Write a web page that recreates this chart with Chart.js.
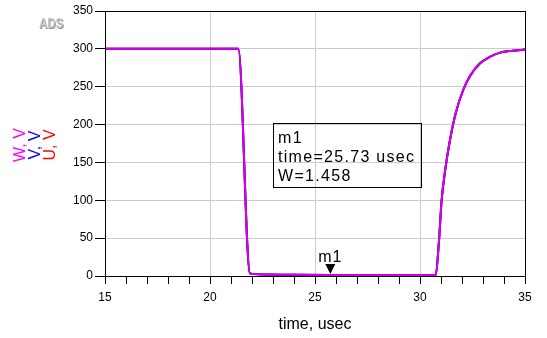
<!DOCTYPE html>
<html>
<head>
<meta charset="utf-8">
<script src="https://cdn.jsdelivr.net/npm/chart.js"></script>
<style>
  html, body { margin: 0; padding: 0; background: #fff; }
  #wrap { width: 547px; height: 338px; }
</style>
</head>
<body>
<div id="wrap"><canvas id="myChart" width="547" height="338"></canvas></div>
<script>
// time in usec
const timeUs = [15, 21.35, 21.9, 22.5, 24, 25.73, 28, 30.75, 30.9, 31.03, 31.2, 31.43, 31.7, 32.06, 32.4, 32.86, 33.3, 33.81, 34.4, 35];
// the three node voltages sit on top of each other
const wVolts = [300, 300, 3.5, 2, 1.6, 1.458, 1.4, 1.4, 45, 100, 140, 180, 215, 246, 265, 281, 289, 295, 297.5, 299];
const vVolts = wVolts.slice();
const uVolts = wVolts.slice();

const markerName = 'm1';
const markerTime = 25.73;
const markerValue = 1.458;

const yTitles = [
    { text: 'W, V', color: '#ff00ff' },
    { text: 'V, V', color: '#0000ff' },
    { text: 'U, V', color: '#ff0000' }
];

const FONT = 'Arial, "Liberation Sans", sans-serif';
Chart.defaults.font.family = FONT;

function toPoints(ys) {
    return timeUs.map((t, i) => ({ x: t, y: ys[i] }));
}

const adsDecor = {
    id: 'adsDecor',
    afterDatasetsDraw(chart) {
        const ctx = chart.ctx;
        const a = chart.chartArea;
        const xs = chart.scales.x;
        const ys = chart.scales.y;

        // plot frame
        ctx.save();
        ctx.strokeStyle = '#000';
        ctx.lineWidth = 1;
        ctx.strokeRect(a.left + 0.5, a.top + 0.5, a.right - a.left, a.bottom - a.top);

        // marker triangle + name
        const mx = xs.getPixelForValue(markerTime);
        const my = ys.getPixelForValue(markerValue);
        ctx.fillStyle = '#000';
        ctx.beginPath();
        ctx.moveTo(mx, my - 1);
        ctx.lineTo(mx - 5, my - 11);
        ctx.lineTo(mx + 5, my - 11);
        ctx.closePath();
        ctx.fill();
        ctx.font = '16px ' + FONT;
        ctx.letterSpacing = '1px';
        ctx.textAlign = 'center';
        ctx.textBaseline = 'alphabetic';
        ctx.fillText(markerName, mx, my - 13);

        // readout box
        const bx = 273, by = 123, bw = 148, bh = 64;
        ctx.strokeRect(bx + 0.5, by + 0.5, bw, bh);
        ctx.textAlign = 'left';
        ctx.letterSpacing = '1.3px';
        ctx.fillText(markerName, 278, 143);
        ctx.fillText('time=' + markerTime.toFixed(2) + ' usec', 278, 162);
        ctx.fillText('W=' + markerValue.toFixed(3), 278, 181);
        ctx.letterSpacing = '0px';
        ctx.restore();
    },
    afterDraw(chart) {
        const ctx = chart.ctx;
        const a = chart.chartArea;
        ctx.save();

        // ADS logo
        ctx.font = 'bold 14px ' + FONT;
        ctx.textAlign = 'left';
        ctx.textBaseline = 'alphabetic';
        ctx.save();
        ctx.translate(39, 28);
        ctx.scale(0.82, 1);
        ctx.fillStyle = '#8a8a8a';
        ctx.fillText('ADS', 1, 1);
        ctx.fillStyle = '#c8c8c8';
        ctx.fillText('ADS', 0, 0);
        ctx.restore();

        // stacked y-axis titles
        ctx.font = '16px ' + FONT;
        ctx.textAlign = 'center';
        const baseX = [25, 40, 55];
        yTitles.forEach((t, i) => {
            ctx.save();
            ctx.translate(baseX[i], 145);
            ctx.rotate(-Math.PI / 2);
            ctx.fillStyle = t.color;
            ctx.fillText(t.text, 0, 0);
            ctx.restore();
        });

        // x-axis title
        ctx.fillStyle = '#000';
        ctx.fillText('time, usec', (a.left + a.right) / 2, 329);
        ctx.restore();
    }
};

const ctx = document.getElementById('myChart').getContext('2d');
const chart = new Chart(ctx, {
    type: 'line',
    data: {
        // first dataset is painted last, so W ends up on top
        datasets: [
            {
                label: 'W',
                data: toPoints(wVolts),
                borderColor: '#d400e8',
                borderWidth: 2,
                pointRadius: 0,
                cubicInterpolationMode: 'monotone'
            },
            {
                label: 'V',
                data: toPoints(vVolts),
                borderColor: '#0000ff',
                borderWidth: 2,
                pointRadius: 0,
                cubicInterpolationMode: 'monotone'
            },
            {
                label: 'U',
                data: toPoints(uVolts),
                borderColor: '#ff0000',
                borderWidth: 2,
                pointRadius: 0,
                cubicInterpolationMode: 'monotone'
            }
        ]
    },
    options: {
        responsive: false,
        animation: false,
        layout: {
            padding: { left: 0, top: 11, right: 22, bottom: 0 }
        },
        plugins: {
            legend: { display: false },
            tooltip: { enabled: false }
        },
        scales: {
            x: {
                type: 'linear',
                min: 15,
                max: 35,
                afterFit: (scale) => { scale.height = 62; },
                ticks: {
                    stepSize: 1,
                    autoSkip: false,
                    maxRotation: 0,
                    color: '#000',
                    padding: 6,
                    font: { size: 12 },
                    callback: (v) => (v % 5 === 0 ? v : '')
                },
                grid: {
                    color: (c) => (c.tick && c.tick.value % 5 === 0 ? '#cccccc' : 'rgba(0,0,0,0)'),
                    tickColor: '#000',
                    tickLength: 8
                },
                border: { color: '#000' }
            },
            y: {
                min: 0,
                max: 350,
                afterFit: (scale) => { scale.width = 105; },
                ticks: {
                    stepSize: 50,
                    color: '#000',
                    padding: 2,
                    font: { size: 12 }
                },
                grid: {
                    color: '#cccccc',
                    tickColor: '#000',
                    tickLength: 10
                },
                border: { color: '#000' }
            }
        }
    },
    plugins: [adsDecor]
});
</script>
</body>
</html>
